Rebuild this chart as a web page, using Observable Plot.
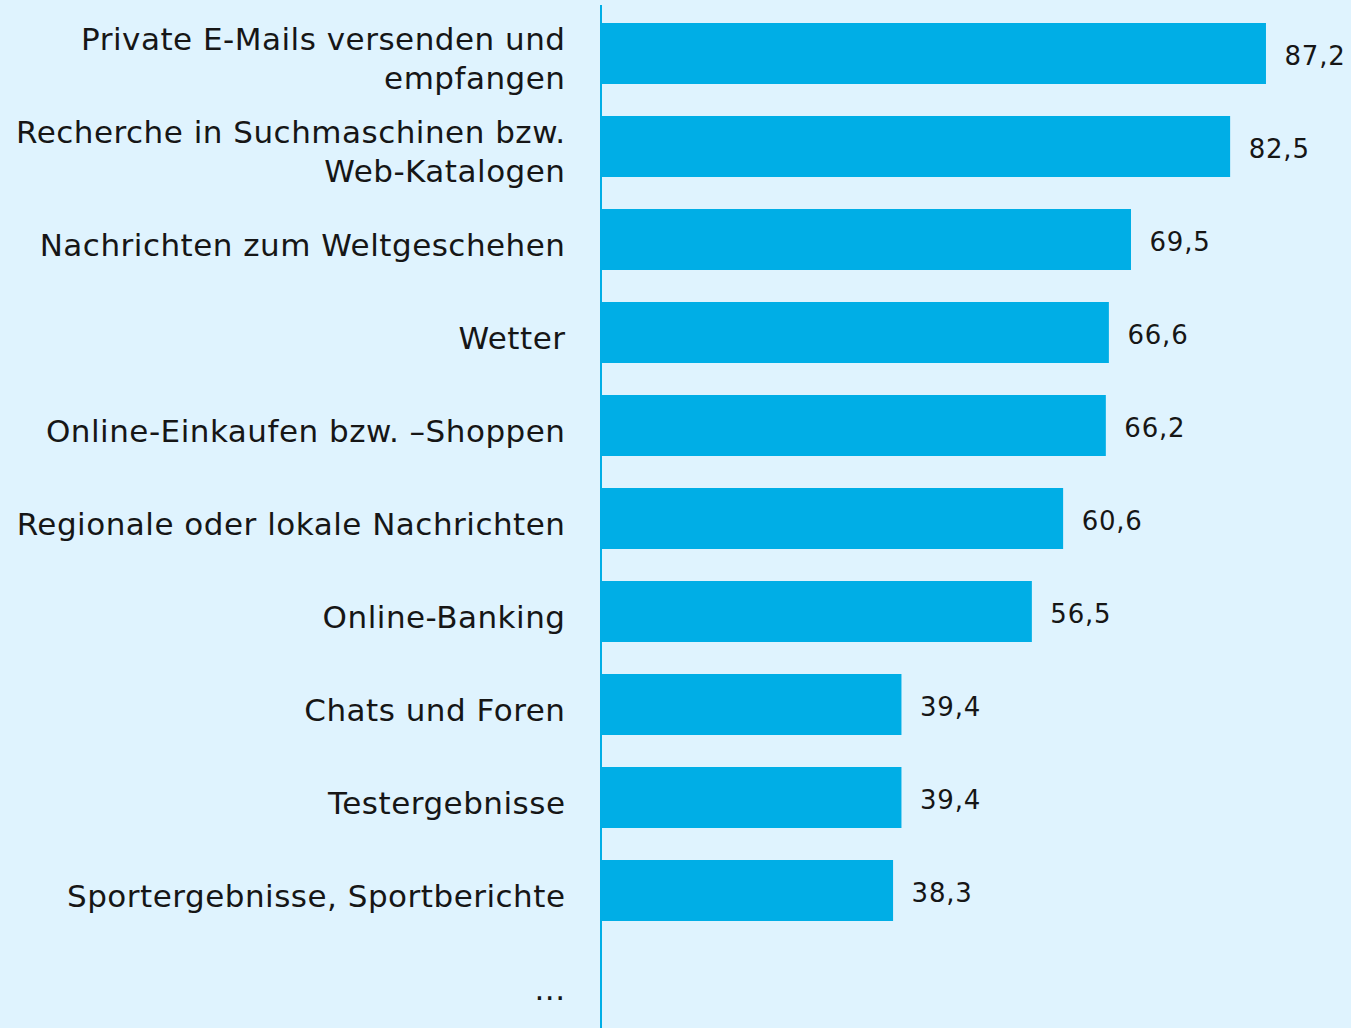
<!DOCTYPE html>
<html>
<head>
<meta charset="utf-8">
<script src="https://cdn.jsdelivr.net/npm/d3@7"></script>
<script src="https://cdn.jsdelivr.net/npm/@observablehq/plot@0.6"></script>
<style>
  html, body { margin: 0; padding: 0; background: #dff3fe; }
  #chart svg { display: block; }
  .cat-label text { letter-spacing: 0.5px; }
  .val-label text { letter-spacing: 0.8px; }
</style>
</head>
<body>
<div id="chart"></div>
<script>
const categories = [
  "Private E-Mails versenden und\nempfangen",
  "Recherche in Suchmaschinen bzw.\nWeb-Katalogen",
  "Nachrichten zum Weltgeschehen",
  "Wetter",
  "Online-Einkaufen bzw. –Shoppen",
  "Regionale oder lokale Nachrichten",
  "Online-Banking",
  "Chats und Foren",
  "Testergebnisse",
  "Sportergebnisse, Sportberichte",
  "..."
];
const values = [87.2, 82.5, 69.5, 66.6, 66.2, 60.6, 56.5, 39.4, 39.4, 38.3, null];

const data = categories.map((c, i) => ({category: c, value: values[i]}));
const bars = data.filter(d => d.value != null);
const fmt = v => v.toFixed(1).replace(".", ",");

const chart = Plot.plot({
  width: 1351,
  height: 1028,
  marginLeft: 601,
  marginRight: 0,
  marginTop: 5,
  marginBottom: 0,
  style: {background: "#dff3fe", fontFamily: "'DejaVu Sans', sans-serif", color: "#111"},
  x: {domain: [0, 98.35], axis: null},
  y: {domain: categories, range: [5, 1033], paddingInner: 0.34, paddingOuter: 0.17, axis: null},
  marks: [
    Plot.barX(bars, {x: "value", y: "category", fill: "#00aee6"}),
    Plot.ruleX([0], {stroke: "#00aee6", strokeWidth: 2, dx: -0.5}),
    Plot.text(data, {y: "category", text: "category", frameAnchor: "left", textAnchor: "end", dx: -36, dy: 3, fontSize: 31, lineHeight: 1.26, fill: "#161616", className: "cat-label"}),
    Plot.text(bars, {x: "value", y: "category", text: d => fmt(d.value), textAnchor: "start", dx: 18, dy: 3, fontSize: 26, fill: "#161616", className: "val-label"})
  ]
});
document.getElementById("chart").appendChild(chart);
</script>
</body>
</html>
